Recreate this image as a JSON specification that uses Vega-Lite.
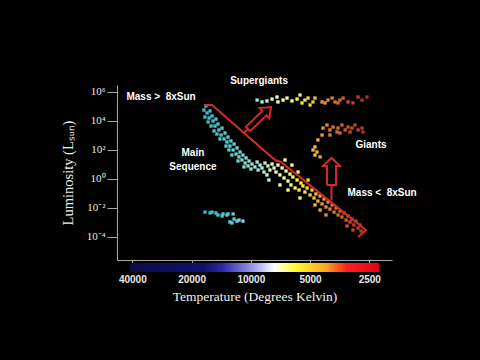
{
  "$schema": "https://vega.github.io/schema/vega-lite/v6.json",
  "autosize": "none",
  "width": 275,
  "height": 175,
  "padding": {"left": 117, "top": 85, "right": 88, "bottom": 100},
  "background": "black",
  "config": {"view": {"stroke": null}, "axis": {"grid": false}},
  "datasets": {
    "stars": [
      {"logT":4.228,"logL":5.01},{"logT":4.238,"logL":4.73},{"logT":4.222,"logL":4.53},{"logT":4.207,"logL":4.67},{"logT":4.233,"logL":4.25},
      {"logT":4.212,"logL":4.18},{"logT":4.197,"logL":4.32},{"logT":4.217,"logL":3.91},{"logT":4.192,"logL":3.98},{"logT":4.177,"logL":4.11},
      {"logT":4.202,"logL":3.63},{"logT":4.182,"logL":3.63},{"logT":4.167,"logL":3.77},{"logT":4.187,"logL":3.29},{"logT":4.162,"logL":3.36},
      {"logT":4.146,"logL":3.49},{"logT":4.172,"logL":3.08},{"logT":4.151,"logL":3.01},{"logT":4.131,"logL":3.15},{"logT":4.136,"logL":2.74},
      {"logT":4.116,"logL":2.87},{"logT":4.157,"logL":2.74},{"logT":4.121,"logL":2.53},{"logT":4.101,"logL":2.60},{"logT":4.126,"logL":2.25},
      {"logT":4.106,"logL":2.25},{"logT":4.085,"logL":2.39},{"logT":4.111,"logL":1.98},{"logT":4.090,"logL":1.98},{"logT":4.070,"logL":2.12},
      {"logT":4.075,"logL":1.70},{"logT":4.055,"logL":1.84},{"logT":4.096,"logL":1.63},{"logT":4.060,"logL":1.50},{"logT":4.040,"logL":1.63},
      {"logT":4.065,"logL":1.22},{"logT":4.045,"logL":1.29},{"logT":4.024,"logL":1.43},{"logT":4.029,"logL":1.08},{"logT":4.009,"logL":1.22},
      {"logT":4.035,"logL":0.81},{"logT":4.014,"logL":0.88},{"logT":3.994,"logL":1.01},{"logT":3.999,"logL":0.67},{"logT":3.979,"logL":0.81},
      {"logT":3.968,"logL":1.15},{"logT":3.953,"logL":0.94},{"logT":3.963,"logL":0.60},{"logT":3.943,"logL":0.74},{"logT":3.928,"logL":1.08},
      {"logT":3.933,"logL":0.46},{"logT":3.913,"logL":0.88},{"logT":3.918,"logL":0.26},{"logT":3.903,"logL":0.60},{"logT":3.892,"logL":1.01},
      {"logT":3.908,"logL":-0.09},{"logT":3.882,"logL":0.74},
      {"logT":3.872,"logL":0.46},{"logT":3.862,"logL":0.94},{"logT":3.852,"logL":0.26},{"logT":3.841,"logL":0.74},{"logT":3.831,"logL":0.05},
      {"logT":3.821,"logL":0.53},{"logT":3.811,"logL":-0.16},{"logT":3.801,"logL":0.32},{"logT":3.796,"logL":-0.43},{"logT":3.786,"logL":0.12},
      {"logT":3.775,"logL":-0.64},{"logT":3.765,"logL":-0.09},{"logT":3.760,"logL":0.46},{"logT":3.755,"logL":-0.78},{"logT":3.745,"logL":-0.30},
      {"logT":3.735,"logL":-0.50},{"logT":3.725,"logL":-0.92},{"logT":3.714,"logL":-0.64},{"logT":3.709,"logL":-0.09},{"logT":3.699,"logL":-1.12},
      {"logT":3.826,"logL":1.29},{"logT":3.791,"logL":0.94},{"logT":3.852,"logL":-0.43},{"logT":3.811,"logL":-0.78},{"logT":3.750,"logL":-1.33},
      {"logT":3.689,"logL":-0.78},{"logT":3.679,"logL":-1.33},{"logT":3.669,"logL":-1.05},{"logT":3.659,"logL":-1.54},{"logT":3.648,"logL":-1.19},
      {"logT":3.638,"logL":-1.74},{"logT":3.628,"logL":-1.40},{"logT":3.618,"logL":-1.95},{"logT":3.608,"logL":-1.61},{"logT":3.598,"logL":-2.09},
      {"logT":3.587,"logL":-1.81},{"logT":3.577,"logL":-2.30},{"logT":3.567,"logL":-2.02},{"logT":3.557,"logL":-2.50},{"logT":3.648,"logL":-2.16},
      {"logT":3.618,"logL":-2.50},{"logT":3.674,"logL":-1.81},
      {"logT":3.547,"logL":-2.23},{"logT":3.537,"logL":-2.64},{"logT":3.526,"logL":-2.36},{"logT":3.516,"logL":-2.85},{"logT":3.506,"logL":-2.57},
      {"logT":3.496,"logL":-2.98},{"logT":3.486,"logL":-2.78},{"logT":3.476,"logL":-3.19},{"logT":3.466,"logL":-2.92},{"logT":3.455,"logL":-3.40},
      {"logT":3.445,"logL":-3.19},{"logT":3.511,"logL":-3.26},{"logT":3.481,"logL":-3.54},{"logT":3.440,"logL":-3.60},
      {"logT":4.233,"logL":-2.30},{"logT":4.207,"logL":-2.36},{"logT":4.197,"logL":-2.30},{"logT":4.177,"logL":-2.36},{"logT":4.167,"logL":-2.50},
      {"logT":4.146,"logL":-2.57},{"logT":4.141,"logL":-2.43},{"logT":4.121,"logL":-2.50},{"logT":4.116,"logL":-2.43},{"logT":4.090,"logL":-2.43},
      {"logT":4.085,"logL":-2.78},{"logT":4.070,"logL":-2.92},{"logT":4.060,"logL":-2.85},{"logT":4.040,"logL":-2.92},{"logT":4.106,"logL":-2.98},
      {"logT":4.096,"logL":-3.05},
      {"logT":3.968,"logL":5.42},{"logT":3.943,"logL":5.29},{"logT":3.918,"logL":5.36},{"logT":3.892,"logL":5.49},{"logT":3.867,"logL":5.63},
      {"logT":3.862,"logL":5.29},{"logT":3.836,"logL":5.42},{"logT":3.816,"logL":5.56},{"logT":3.791,"logL":5.36},{"logT":3.765,"logL":5.49},
      {"logT":3.750,"logL":5.77},{"logT":3.740,"logL":5.22},{"logT":3.725,"logL":5.42},{"logT":3.709,"logL":5.56},{"logT":3.699,"logL":5.08},
      {"logT":3.684,"logL":5.29},{"logT":3.674,"logL":5.56},{"logT":3.638,"logL":5.29},{"logT":3.623,"logL":5.22},{"logT":3.608,"logL":5.42},
      {"logT":3.587,"logL":5.56},{"logT":3.572,"logL":5.29},{"logT":3.557,"logL":5.22},{"logT":3.547,"logL":5.42},{"logT":3.531,"logL":5.56},
      {"logT":3.506,"logL":5.29},{"logT":3.481,"logL":5.22},{"logT":3.455,"logL":5.63},{"logT":3.435,"logL":5.42},{"logT":3.410,"logL":5.63},
      {"logT":3.633,"logL":3.49},{"logT":3.613,"logL":3.70},{"logT":3.598,"logL":3.36},{"logT":3.582,"logL":3.56},{"logT":3.562,"logL":3.22},
      {"logT":3.557,"logL":3.49},{"logT":3.537,"logL":3.70},{"logT":3.521,"logL":3.36},{"logT":3.506,"logL":3.56},{"logT":3.486,"logL":3.49},
      {"logT":3.471,"logL":3.70},{"logT":3.455,"logL":3.36},{"logT":3.435,"logL":3.49},{"logT":3.430,"logL":3.22},{"logT":3.638,"logL":3.01},
      {"logT":3.659,"logL":2.67},{"logT":3.674,"logL":2.19},{"logT":3.684,"logL":1.98},{"logT":3.664,"logL":1.84},{"logT":3.674,"logL":1.63},
      {"logT":3.648,"logL":1.50},{"logT":3.598,"logL":3.01},{"logT":3.496,"logL":3.22},{"logT":3.547,"logL":3.15}
    ],
    "shapes": [
      {"s":"band","i":0,"logT":4.238,"logL":5.079},
      {"s":"band","i":1,"logT":4.197,"logL":5.079},
      {"s":"band","i":2,"logT":3.877,"logL":1.289},
      {"s":"band","i":3,"logT":3.847,"logL":1.151},
      {"s":"band","i":4,"logT":3.415,"logL":-3.535},
      {"s":"band","i":5,"logT":3.455,"logL":-4.018},
      {"s":"c1","i":0,"logT":4.035,"logL":3.150},
      {"s":"c1","i":1,"logT":4.014,"logL":3.425},
      {"s":"a1","i":0,"logT":4.004,"logL":3.274},
      {"s":"a1","i":1,"logT":3.920,"logL":4.363},
      {"s":"a1","i":2,"logT":3.906,"logL":4.163},
      {"s":"a1","i":3,"logT":3.897,"logL":4.942},
      {"s":"a1","i":4,"logT":3.955,"logL":4.866},
      {"s":"a1","i":5,"logT":3.941,"logL":4.666},
      {"s":"a1","i":6,"logT":4.025,"logL":3.577},
      {"s":"a1","i":7,"logT":4.004,"logL":3.274},
      {"s":"c2","i":0,"logT":3.590,"logL":-0.434},
      {"s":"c2","i":1,"logT":3.590,"logL":-1.468},
      {"s":"a2","i":0,"logT":3.613,"logL":-0.434},
      {"s":"a2","i":1,"logT":3.613,"logL":0.875},
      {"s":"a2","i":2,"logT":3.633,"logL":0.875},
      {"s":"a2","i":3,"logT":3.590,"logL":1.427},
      {"s":"a2","i":4,"logT":3.547,"logL":0.875},
      {"s":"a2","i":5,"logT":3.567,"logL":0.875},
      {"s":"a2","i":6,"logT":3.567,"logL":-0.434},
      {"s":"a2","i":7,"logT":3.613,"logL":-0.434}
    ],
    "labels": [
      {"text":"Supergiants","logT":3.958,"logL":6.73},
      {"text":"Mass >\u00a0 8xSun","logT":4.456,"logL":5.63},
      {"text":"Main","logT":4.294,"logL":1.77},
      {"text":"Sequence","logT":4.294,"logL":0.81},
      {"text":"Giants","logT":3.389,"logL":2.32},
      {"text":"Mass <\u00a0 8xSun","logT":3.333,"logL":-0.99}
    ],
    "bar": [{"logT":4.6137,"logT2":3.3486,"logL":-5.81,"logL2":-6.43}]
  },
  "layer": [
    {
      "data": {"name": "bar"},
      "mark": {"type": "rect", "color": {"gradient": "linear", "x1": 0, "x2": 1, "y1": 0, "y2": 0, "stops": [
        {"offset": 0, "color": "#0c0c48"},
        {"offset": 0.3, "color": "#10106e"},
        {"offset": 0.37, "color": "#2a2aa8"},
        {"offset": 0.45, "color": "#7070d8"},
        {"offset": 0.52, "color": "#b8b8ee"},
        {"offset": 0.58, "color": "#ffffff"},
        {"offset": 0.66, "color": "#ffff30"},
        {"offset": 0.79, "color": "#ffa020"},
        {"offset": 0.87, "color": "#ff2020"},
        {"offset": 1, "color": "#e80010"}
      ]}},
      "encoding": {
        "x": {"field": "logT", "type": "quantitative",
          "scale": {"domain": [3.2826, 4.6798], "reverse": true, "nice": false, "zero": false},
          "axis": {"values": [4.60206, 4.30103, 4, 3.69897, 3.39794], "tickCount": 20,
            "labelExpr": "'' + round(pow(10, datum.value))", "labelOverlap": false,
            "labelFont": "Liberation Sans", "labelFontWeight": "bold", "labelFontSize": 10, "labelColor": "#e8e8e8",
            "domainColor": "#a8a8a8", "tickColor": "#a8a8a8", "tickSize": 3, "labelPadding": 11,
            "title": "Temperature (Degrees Kelvin)", "titleFont": "Liberation Serif", "titleFontSize": 13.5,
            "titleFontWeight": "normal", "titleColor": "#f0f0f0", "titlePadding": 5}},
        "x2": {"field": "logT2"},
        "y": {"field": "logL", "type": "quantitative",
          "scale": {"domain": [-5.603, 6.458], "nice": false, "zero": false},
          "axis": {"values": [-4, -2, 0, 2, 4, 6], "tickCount": 20, "labelOverlap": false,
            "labelExpr": "datum.value == 6 ? '10⁶' : datum.value == 4 ? '10⁴' : datum.value == 2 ? '10²' : datum.value == 0 ? '10⁰' : datum.value == -2 ? '10⁻²' : '10⁻⁴'",
            "labelFont": "Liberation Serif", "labelFontSize": 11, "labelColor": "#e8e8e8",
            "domainColor": "#a8a8a8", "tickColor": "#a8a8a8", "tickSize": 10, "labelPadding": 2,
            "title": "Luminosity  (Lₛᵤₙ)", "titleFont": "Liberation Serif", "titleFontSize": 14.5,
            "titleFontWeight": "normal", "titleColor": "#f0f0f0", "titlePadding": 11}},
        "y2": {"field": "logL2"}
      }
    },
    {
      "data": {"name": "stars"},
      "mark": {"type": "square", "size": 11, "opacity": 1, "filled": true},
      "encoding": {
        "x": {"field": "logT", "type": "quantitative"},
        "y": {"field": "logL", "type": "quantitative"},
        "color": {"field": "logT", "type": "quantitative", "legend": null,
          "scale": {"domain": [3.398, 3.477, 3.602, 3.699, 3.778, 3.875, 3.954, 4.079, 4.23],
            "range": ["#a83028", "#c04030", "#e08034", "#f0d040", "#ffff50", "#f0f8c0", "#a8e8e0", "#60d0d0", "#40b8c8"]}}
      }
    },
    {
      "data": {"name": "shapes"},
      "mark": {"type": "line", "color": "#d82828", "strokeWidth": 2, "strokeJoin": "miter"},
      "encoding": {
        "x": {"field": "logT", "type": "quantitative"},
        "y": {"field": "logL", "type": "quantitative"},
        "detail": {"field": "s"},
        "order": {"field": "i", "type": "quantitative"}
      }
    },
    {
      "data": {"name": "labels"},
      "mark": {"type": "text", "font": "Liberation Sans", "fontWeight": "bold", "fontSize": 10, "color": "white", "align": "center", "baseline": "middle"},
      "encoding": {
        "x": {"field": "logT", "type": "quantitative"},
        "y": {"field": "logL", "type": "quantitative"},
        "text": {"field": "text"}
      }
    }
  ]
}
